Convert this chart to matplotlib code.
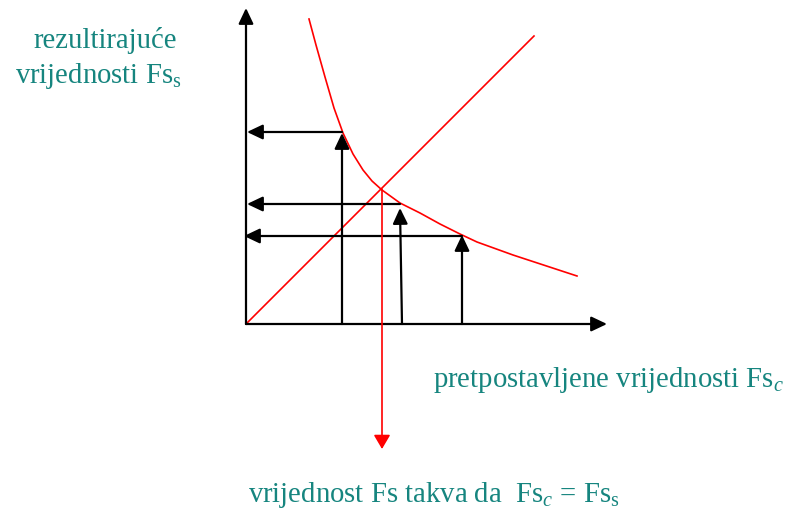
"""
Iterative safety-factor diagram: assumed Fs_c vs resulting Fs_s.
"""

import matplotlib
matplotlib.use("Agg")
import matplotlib.pyplot as plt

plt.rcParams["font.family"] = ["Liberation Serif", "DejaVu Serif"]
plt.rcParams["mathtext.fontset"] = "custom"
plt.rcParams["mathtext.rm"] = "Liberation Serif"
plt.rcParams["mathtext.it"] = "Liberation Serif:italic"

TEAL = "#16857f"
RED = "#ff0000"

# ------------------------------------------------------------
# Data (diagram units, origin at the axes corner)
# ------------------------------------------------------------
curve_x = [63, 70, 79, 88, 97, 107, 117, 126, 136, 154, 174, 194, 214, 231, 267, 331]
curve_y = [305, 279, 247, 216, 191, 170, 154, 143, 134, 121, 111, 100, 90, 82, 69, 48]

diag_x = [0, 288]
diag_y = [0, 288]

# assumed values (vertical arrows) and the results they give (horizontal arrows)
assumed_x = [96, 156, 216]
assumed_tip_x = [96, 154, 216]
result_y = [191, 116, 89]
result_from_x = [96, 154, 216]
result_line_y = [192, 120, 88]
result_tip_x = [1, 1, -2]

cross_x = 136
cross_y = 135
cross_tip_y = -125

axis_x_end = 361
axis_y_end = 316


def arrow(ax, start, tip, color="black", lw=1.6, hl=0.95, hw=0.45):
    ax.annotate("", xy=tip, xytext=start,
                arrowprops=dict(arrowstyle=f"-|>,head_length={hl},head_width={hw}",
                                color=color, lw=lw, shrinkA=0, shrinkB=0,
                                mutation_scale=10))


# ------------------------------------------------------------
# Figure
# ------------------------------------------------------------
fig = plt.figure(figsize=(7.91, 5.09), dpi=100)
ax = fig.add_axes([0, 0, 1, 1])
ax.set_xlim(-246, 545)
ax.set_ylim(-185, 324)
ax.axis("off")

# axes arrows
arrow(ax, (0, 0), (axis_x_end, 0))
arrow(ax, (0, 0), (0, axis_y_end))

# curves
ax.plot(curve_x, curve_y, color=RED, lw=1.2, solid_joinstyle="round")
ax.plot(diag_x, diag_y, color=RED, lw=1.2)

# iteration arrows
for x0, xt, yt in zip(assumed_x, assumed_tip_x, result_y):
    arrow(ax, (x0, 0), (xt, yt))
for x0, yl, xt in zip(result_from_x, result_line_y, result_tip_x):
    arrow(ax, (x0, yl), (xt, yl))

# solution arrow
arrow(ax, (cross_x, cross_y), (cross_x, cross_tip_y), color=RED, lw=1.2, hl=0.85, hw=0.5)

# labels
W, H = 791, 509
fs = 20.7
fig.text(105 / W, 1 - 48 / H, "rezultirajuće", color=TEAL, fontsize=fs,
         ha="center", va="baseline")
fig.text(98 / W, 1 - 83 / H, r"vrijednosti Fs$_\mathrm{s}$", color=TEAL, fontsize=fs,
         ha="center", va="baseline")
fig.text(433 / W, 1 - 387 / H, r"pretpostavljene vrijednosti Fs$_{c}$", color=TEAL,
         fontsize=fs, ha="left", va="baseline")
fig.text(248 / W, 1 - 502 / H, r"vrijednost Fs takva da  Fs$_{c}$ = Fs$_\mathrm{s}$",
         color=TEAL, fontsize=fs, ha="left", va="baseline")

fig.savefig("out.png", dpi=100)
